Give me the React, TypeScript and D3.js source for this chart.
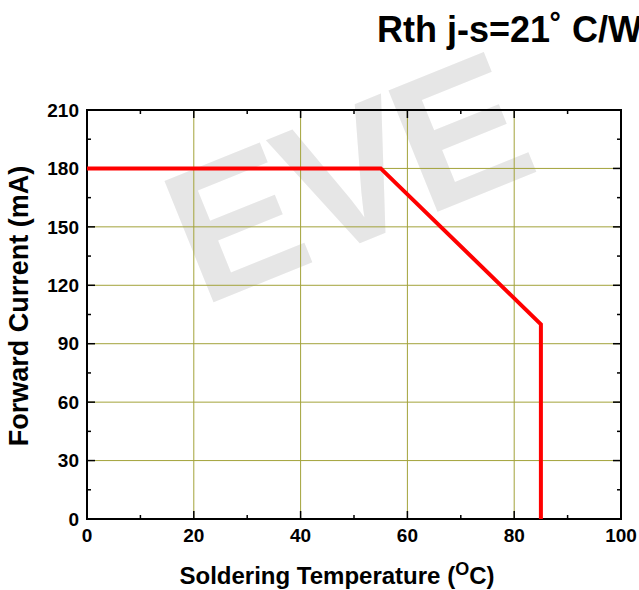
import React from "react";
import * as d3 from "d3";

const curveX = [0, 55, 85, 85];
const curveY = [180, 180, 100, 0];
const xTicks = [0, 20, 40, 60, 80, 100];
const yTicks = [0, 30, 60, 90, 120, 150, 180, 210];
const xMinor = [10, 30, 50, 70, 90];
const yMinor = [15, 45, 75, 105, 135, 165, 195];
const title = "Rth j-s=21˚ C/W";

const W = 639, H = 590;
const M = { left: 87, right: 621, top: 110, bottom: 519 };
const FONT = "'Liberation Sans', Arial, sans-serif";

export default function App() {
  const x = d3.scaleLinear().domain([0, 100]).range([M.left, M.right]);
  const y = d3.scaleLinear().domain([0, 210]).range([M.bottom, M.top]);
  const line = d3.line<number>().x((_, i) => x(curveX[i])).y((d) => y(d));
  const grid = "#a3a33a";
  return (
    <svg width={W} height={H} style={{ position: "absolute", left: 0, top: 0, background: "#fff" }}>
      {/* watermark */}
      <g transform="translate(345,178) rotate(-22)">
        <text x={0} y={0} textAnchor="middle" dominantBaseline="central" fontFamily={FONT}
          fontWeight="bold" fontSize={190} fill="#e6e6e6" letterSpacing={-6}>EVE</text>
      </g>
      {/* grid */}
      {xTicks.filter((t) => t > 0 && t < 100).map((t) => (
        <line key={"gx" + t} x1={x(t)} x2={x(t)} y1={M.top} y2={M.bottom} stroke={grid} strokeWidth={1} />
      ))}
      {yTicks.filter((t) => t > 0 && t < 210).map((t) => (
        <line key={"gy" + t} x1={M.left} x2={M.right} y1={y(t)} y2={y(t)} stroke={grid} strokeWidth={1} />
      ))}
      {/* ticks */}
      {xTicks.map((t) => (
        <g key={"tx" + t}>
          <line x1={x(t)} x2={x(t)} y1={M.bottom} y2={M.bottom - 8} stroke="#000" strokeWidth={1.5} />
          <line x1={x(t)} x2={x(t)} y1={M.top} y2={M.top + 8} stroke="#000" strokeWidth={1.5} />
        </g>
      ))}
      {xMinor.map((t) => (
        <g key={"mx" + t}>
          <line x1={x(t)} x2={x(t)} y1={M.bottom} y2={M.bottom - 4} stroke="#000" strokeWidth={1.5} />
          <line x1={x(t)} x2={x(t)} y1={M.top} y2={M.top + 4} stroke="#000" strokeWidth={1.5} />
        </g>
      ))}
      {yTicks.map((t) => (
        <g key={"ty" + t}>
          <line x1={M.left} x2={M.left + 8} y1={y(t)} y2={y(t)} stroke="#000" strokeWidth={1.5} />
          <line x1={M.right} x2={M.right - 8} y1={y(t)} y2={y(t)} stroke="#000" strokeWidth={1.5} />
        </g>
      ))}
      {yMinor.map((t) => (
        <g key={"my" + t}>
          <line x1={M.left} x2={M.left + 4} y1={y(t)} y2={y(t)} stroke="#000" strokeWidth={1.5} />
          <line x1={M.right} x2={M.right - 4} y1={y(t)} y2={y(t)} stroke="#000" strokeWidth={1.5} />
        </g>
      ))}
      {/* frame */}
      <rect x={M.left} y={M.top} width={M.right - M.left} height={M.bottom - M.top} fill="none" stroke="#000" strokeWidth={2} />
      {/* curve */}
      <path d={line(curveY) || ""} fill="none" stroke="#ff0000" strokeWidth={4} strokeLinejoin="miter" />
      {/* tick labels */}
      {xTicks.map((t) => (
        <text key={"lx" + t} x={x(t)} y={542} textAnchor="middle" fontFamily={FONT} fontWeight="bold" fontSize={19}>{t}</text>
      ))}
      {yTicks.map((t) => (
        <text key={"ly" + t} x={79} y={y(t)} dy="0.35em" textAnchor="end" fontFamily={FONT} fontWeight="bold" fontSize={19}>{t}</text>
      ))}
      {/* axis titles */}
      <text x={337} y={584} textAnchor="middle" fontFamily={FONT} fontWeight="bold" fontSize={24}>
        Soldering Temperature (<tspan dy={-9} fontSize={18}>O</tspan><tspan dy={9}>C)</tspan>
      </text>
      <text transform={`translate(28,306) rotate(-90)`} textAnchor="middle" fontFamily={FONT} fontWeight="bold" fontSize={27}>
        Forward Current (mA)
      </text>
      <text x={377} y={42} fontFamily={FONT} fontWeight="bold" fontSize={36}>{title}</text>
    </svg>
  );
}
